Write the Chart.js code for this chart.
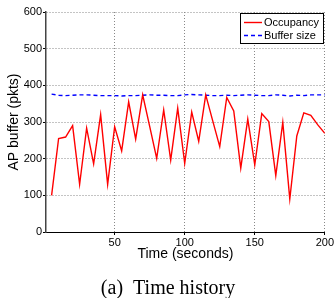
<!DOCTYPE html>
<html>
<head>
<meta charset="utf-8">
<script src="https://cdn.jsdelivr.net/npm/chart.js@4/dist/chart.umd.min.js"></script>
<style>
  html, body { margin: 0; padding: 0; background: #fff; }
  #wrap { width: 335px; height: 298px; }
</style>
</head>
<body>
<div id="wrap"><canvas id="c" width="335" height="298"></canvas></div>
<script>
// data
const times = [5, 10, 15, 20, 25, 30, 35, 40, 45, 50, 55, 60, 65, 70, 75, 80, 85, 90, 95, 100,
  105, 110, 115, 120, 125, 130, 135, 140, 145, 150, 155, 160, 165, 170, 175, 180, 185, 190, 195, 200];
const occupancy = [100, 255, 259, 290, 130, 283, 186, 320, 130, 287, 221, 355, 253, 374, 288, 201, 333, 196, 338, 187,
  327, 247, 374, 303, 233, 367, 330, 174, 308, 183, 323, 301, 154, 299, 90, 262, 325, 318, 292, 269];
const bufferSize = [376, 373, 372, 373, 374, 374, 373, 372, 372, 372, 371, 372, 372, 373, 374, 373, 373, 372, 372, 374,
  375, 374, 373, 372, 372, 373, 372, 373, 374, 373, 372, 372, 374, 373, 371, 373, 372, 374, 374, 374];
const xTicks = [50, 100, 150, 200];
const caption = '(a)  Time history';

const font = "'Liberation Sans', Arial, sans-serif";

// MATLAB style legend box inside the axes
const boxLegend = {
  id: 'boxLegend',
  afterDraw(chart) {
    const ctx = chart.ctx;
    const x0 = 240, y0 = 13, w = 83, h = 30;
    ctx.save();
    ctx.fillStyle = '#fff';
    ctx.fillRect(x0, y0, w, h);
    ctx.strokeStyle = '#000';
    ctx.lineWidth = 1;
    ctx.strokeRect(x0 + 0.5, y0 + 0.5, w, h);
    ctx.font = '11px ' + font;
    ctx.textBaseline = 'middle';
    chart.data.datasets.forEach((ds, i) => {
      const y = y0 + 9.5 + i * 13;
      ctx.strokeStyle = ds.borderColor;
      ctx.lineWidth = ds.borderWidth;
      ctx.setLineDash(ds.borderDash || []);
      ctx.beginPath();
      ctx.moveTo(x0 + 4, y);
      ctx.lineTo(x0 + 22, y);
      ctx.stroke();
      ctx.setLineDash([]);
      ctx.fillStyle = '#000';
      ctx.fillText(ds.label, x0 + 24, y + 0.5);
    });
    ctx.restore();
  }
};

const captionPlugin = {
  id: 'caption',
  afterDraw(chart) {
    const ctx = chart.ctx;
    ctx.save();
    ctx.font = "20px 'Liberation Serif', 'Times New Roman', serif";
    ctx.fillStyle = '#000';
    ctx.textAlign = 'center';
    ctx.textBaseline = 'alphabetic';
    ctx.fillText(caption, 168, 294);
    ctx.restore();
  }
};

new Chart(document.getElementById('c'), {
  type: 'line',
  data: {
    datasets: [{
      label: 'Occupancy',
      data: times.map((t, i) => ({ x: t, y: occupancy[i] })),
      borderColor: '#ff0000',
      borderWidth: 1.4,
      pointRadius: 0,
      tension: 0
    }, {
      label: 'Buffer size',
      data: times.map((t, i) => ({ x: t, y: bufferSize[i] })),
      borderColor: '#0000ff',
      borderWidth: 1.4,
      borderDash: [4, 3],
      pointRadius: 0,
      tension: 0
    }]
  },
  options: {
    responsive: false,
    animation: false,
    layout: { padding: { left: 0, right: 9, top: 12, bottom: 35 } },
    plugins: {
      legend: { display: false },
      tooltip: { enabled: false }
    },
    scales: {
      x: {
        type: 'linear',
        min: 1,
        max: 200,
        afterBuildTicks: s => { s.ticks = xTicks.map(v => ({ value: v })); },
        afterFit: s => { s.height = 31; },
        grid: { color: '#888', tickLength: 3, tickColor: '#000', drawOnChartArea: true },
        border: { color: '#000', width: 1, dash: [1, 2] },
        ticks: { color: '#000', font: { family: font, size: 11 }, padding: 1, maxRotation: 0 },
        title: { display: true, text: 'Time (seconds)', color: '#000', font: { family: font, size: 14 }, padding: { top: 0, bottom: 0 } }
      },
      y: {
        min: 0,
        max: 600,
        ticks: { stepSize: 100, color: '#000', font: { family: font, size: 11 }, padding: 1 },
        afterFit: s => { s.width = 46; },
        grid: { color: '#888', tickLength: 3, tickColor: '#000' },
        border: { color: '#444', width: 1.5, dash: [1, 2] },
        title: { display: true, text: 'AP buffer (pkts)', color: '#000', font: { family: font, size: 14 }, padding: { top: 6, bottom: 0 } }
      }
    }
  },
  plugins: [boxLegend, captionPlugin]
});
</script>
</body>
</html>
